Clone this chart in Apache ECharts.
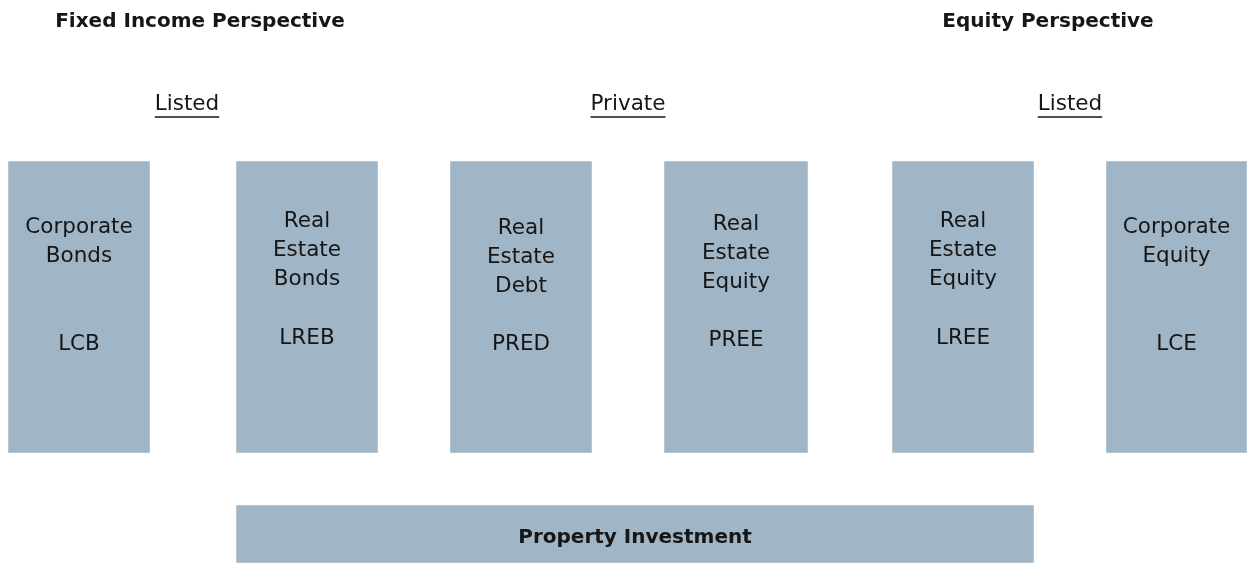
<!DOCTYPE html>
<html>
<head>
<meta charset="utf-8">
<script src="https://cdn.jsdelivr.net/npm/echarts@6/dist/echarts.min.js"></script>
<style>
    html, body {margin: 0; padding: 0; background: #fff;}
    #main {width: 1247px; height: 564px;}
</style>
</head>
<body>
<div id="main"></div>
<script>
//图表文字数据
var perspectives = ['Fixed Income Perspective', 'Equity Perspective'];
var groupLabels = ['Listed', 'Private', 'Listed'];
var boxNames = ['Corporate\nBonds', 'Real\nEstate\nBonds', 'Real\nEstate\nDebt', 'Real\nEstate\nEquity', 'Real\nEstate\nEquity', 'Corporate\nEquity'];
var boxCodes = ['LCB', 'LREB', 'PRED', 'PREE', 'LREE', 'LCE'];
var baseLabel = 'Property Investment';

//布局 (像素坐标系)
var perspectiveX = [200, 1048];
var groupX = [187, 628, 1070];
var boxLeft = [8, 236, 450, 664, 892, 1106];
var boxRight = [150, 378, 592, 808, 1034, 1247];
var boxTop = 161, boxBottom = 453;
var nameY = [242, 250, 257, 253, 250, 242];
var codeY = [344, 338, 344, 340, 338, 344];
var base = [236, 1034, 505, 563];

var fillColor = '#A0B5C5';
var edgeColor = '#B3C5D1';
var textColor = '#161616';
var font = 'DejaVu Sans';

var myChart = echarts.init(document.getElementById('main'));

function textEl(api, x, y, text, size, weight, lh) {
    var p = api.coord([x, y]);
    return {
        type: 'text',
        style: {
            text: text,
            x: p[0],
            y: p[1],
            align: 'center',
            verticalAlign: 'middle',
            fontFamily: font,
            fontSize: size,
            fontWeight: weight,
            lineHeight: lh || size,
            fill: textColor
        }
    };
}

var boxData = boxNames.map(function (n, i) {
    return [boxLeft[i], boxRight[i], nameY[i], codeY[i]];
});

var option = {
    animation: false,
    backgroundColor: '#fff',
    grid: {left: 0, right: 0, top: 0, bottom: 0},
    xAxis: {type: 'value', min: 0, max: 1247, show: false},
    yAxis: {type: 'value', min: 0, max: 564, inverse: true, show: false},
    series: [
        {
            //六个资产方块
            type: 'custom',
            data: boxData,
            renderItem: function (params, api) {
                var i = params.dataIndex;
                var tl = api.coord([api.value(0), boxTop]);
                var br = api.coord([api.value(1), boxBottom]);
                var cx = (api.value(0) + api.value(1)) / 2;
                return {
                    type: 'group',
                    children: [
                        {
                            type: 'rect',
                            shape: {x: tl[0] + 0.5, y: tl[1] + 0.5, width: br[0] - tl[0] - 1, height: br[1] - tl[1] - 1},
                            style: {fill: fillColor, stroke: edgeColor, lineWidth: 1}
                        },
                        textEl(api, cx, api.value(2), boxNames[i], 21.5, 'normal', 29),
                        textEl(api, cx, api.value(3), boxCodes[i], 21.5, 'normal')
                    ]
                };
            }
        },
        {
            //底部 Property Investment
            type: 'custom',
            data: [base],
            renderItem: function (params, api) {
                var tl = api.coord([api.value(0), api.value(2)]);
                var br = api.coord([api.value(1), api.value(3)]);
                return {
                    type: 'group',
                    children: [
                        {
                            type: 'rect',
                            shape: {x: tl[0] + 0.5, y: tl[1] + 0.5, width: br[0] - tl[0] - 1, height: br[1] - tl[1] - 1},
                            style: {fill: fillColor, stroke: edgeColor, lineWidth: 1}
                        },
                        textEl(api, (api.value(0) + api.value(1)) / 2, 538, baseLabel, 20, 'bold')
                    ]
                };
            }
        },
        {
            //标题
            type: 'custom',
            data: perspectiveX.map(function (x) { return [x]; }),
            renderItem: function (params, api) {
                return textEl(api, api.value(0), 22, perspectives[params.dataIndex], 20, 'bold');
            }
        },
        {
            //分组标签 (下划线)
            type: 'custom',
            data: groupX.map(function (x) { return [x]; }),
            renderItem: function (params, api) {
                var t = groupLabels[params.dataIndex];
                var w = echarts.format.getTextRect
                    ? echarts.format.getTextRect(t, '21.5px ' + font).width
                    : t.length * 12;
                var p = api.coord([api.value(0), 117]);
                return {
                    type: 'group',
                    children: [
                        textEl(api, api.value(0), 104, t, 21.5, 'normal'),
                        {
                            type: 'line',
                            shape: {x1: p[0] - w / 2, y1: p[1], x2: p[0] + w / 2, y2: p[1]},
                            style: {stroke: textColor, lineWidth: 1.5}
                        }
                    ]
                };
            }
        }
    ]
};
myChart.setOption(option);
</script>
</body>
</html>
